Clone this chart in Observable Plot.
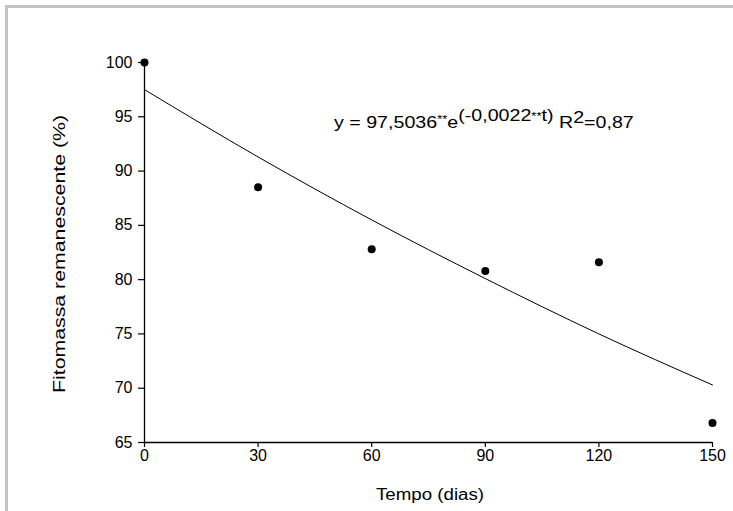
<!DOCTYPE html>
<html>
<head>
<meta charset="utf-8">
<script src="https://cdn.jsdelivr.net/npm/d3@7"></script>
<script src="https://cdn.jsdelivr.net/npm/@observablehq/plot@0.6"></script>
<style>
  html, body { margin: 0; padding: 0; background: #fff; }
  #wrap { position: relative; width: 733px; height: 511px; overflow: hidden; }
  #frame { position: absolute; left: 5px; top: 5px; right: -10px; bottom: -10px;
           border-top: 3px solid #c4c4c4; border-left: 3px solid #c4c4c4; pointer-events: none; }
  svg text { font-family: "Liberation Sans", Arial, sans-serif; }
</style>
</head>
<body>
<div id="wrap"><div id="frame"></div></div>
<script>
// Observed data (days, remaining phytomass %)
const days = [0, 30, 60, 90, 120, 150];
const fitomassa = [100, 88.5, 82.8, 80.8, 81.6, 66.8];
// Fitted curve, values
const curveDays = [0, 30, 60, 90, 120, 150];
const curveValues = [97.5, 91.3, 85.5, 80.1, 75.0, 70.3];
const xTicks = [0, 30, 60, 90, 120, 150];
const yTicks = [65, 70, 75, 80, 85, 90, 95, 100];

const points = days.map((d, i) => ({t: d, y: fitomassa[i]}));
const curve = curveDays.map((d, i) => ({t: d, y: curveValues[i]}));

const chart = Plot.plot({
  width: 733,
  height: 511,
  marginLeft: 144,
  marginRight: 21,
  marginTop: 62,
  marginBottom: 69,
  style: {fontFamily: "Liberation Sans, Arial, sans-serif", fontSize: "16px", background: "transparent", overflow: "visible"},
  x: {domain: [0, 150]},
  y: {domain: [65, 100]},
  marks: [
    Plot.axisX({ticks: xTicks, tickSize: 5, tickPadding: 2, fontSize: 16, label: null, color: "#000", strokeWidth: 1.2}),
    Plot.axisY({ticks: yTicks, tickSize: 6, tickPadding: 6, fontSize: 16, label: null, color: "#000", strokeWidth: 1.2}),
    Plot.ruleY([65], {stroke: "#000", strokeWidth: 1.3}),
    Plot.ruleX([0], {stroke: "#000", strokeWidth: 1.3}),
    Plot.line(curve, {x: "t", y: "y", stroke: "#000", strokeWidth: 1, curve: "monotone-x"}),
    Plot.dot(points, {x: "t", y: "y", r: 4, fill: "#000", stroke: "none"})
  ]
});

document.getElementById("wrap").prepend(chart);

const svg = d3.select(chart);

// axis titles
svg.append("text")
  .attr("x", 376)
  .attr("y", 500)
  .attr("text-anchor", "start")
  .attr("font-size", 16)
  .attr("fill", "#000")
  .attr("textLength", 108)
  .attr("lengthAdjust", "spacingAndGlyphs")
  .text("Tempo (dias)");

svg.append("text")
  .attr("transform", "translate(65,393) rotate(-90)")
  .attr("text-anchor", "start")
  .attr("font-size", 17)
  .attr("fill", "#000")
  .attr("textLength", 278)
  .attr("lengthAdjust", "spacingAndGlyphs")
  .text("Fitomassa remanescente (%)");

// equation annotation
const eq = svg.append("text")
  .attr("text-anchor", "start")
  .attr("font-size", 16.5)
  .attr("fill", "#000");
eq.append("tspan").text("y = 97,5036");
eq.append("tspan").attr("font-size", 11).attr("dy", -5).text("**");
eq.append("tspan").attr("dy", 5).text("e");
eq.append("tspan").attr("dy", -7).text("(-0,0022");
eq.append("tspan").attr("font-size", 11).attr("dy", -1).text("**");
eq.append("tspan").attr("dy", 1).text("t)");
eq.append("tspan").attr("dy", 7).text(" R");
eq.append("tspan").attr("dy", -5).text("2");
eq.append("tspan").attr("dy", 5).text("=0,87");
const w = eq.node().getComputedTextLength();
eq.attr("transform", `translate(334,128) scale(${300 / w},1)`);
</script>
</body>
</html>
